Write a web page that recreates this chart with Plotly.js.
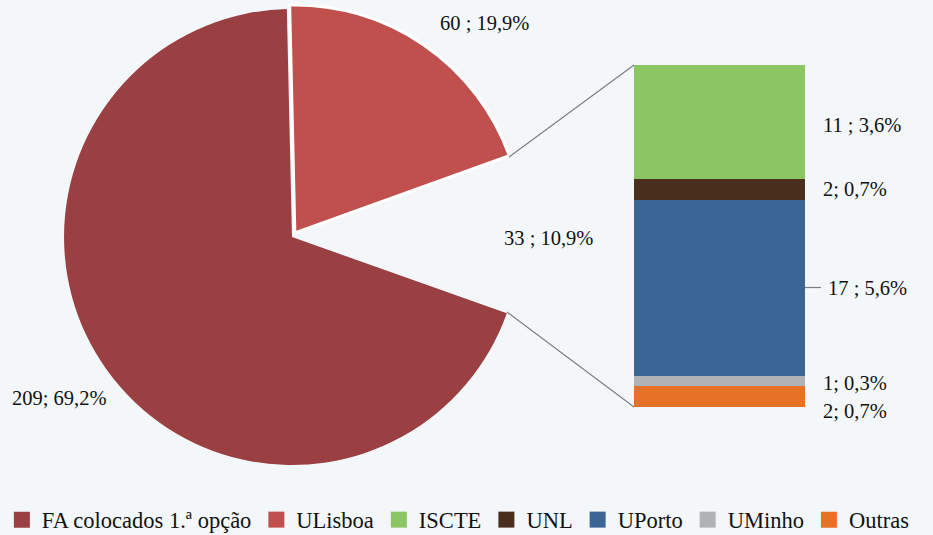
<!DOCTYPE html>
<html>
<head>
<meta charset="utf-8">
<script src="https://cdn.plot.ly/plotly-3.0.1.min.js"></script>
<style>
  html, body { margin: 0; padding: 0; background: #f3f7fa; }
  #chart { width: 933px; height: 535px; }
</style>
</head>
<body>
<div id="chart"></div>
<script>
// Main pie (first slice ULisboa, then the "other" group, then FA)
const pieLabels = ['ULisboa', 'Outras instituições', 'FA colocados 1.ª opção'];
const pieValues = [60, 33, 209];
const pieText = ['60 ; 19,9%', '33 ; 10,9%', '209; 69,2%'];
const pieColors = ['#c0504d', 'rgba(0,0,0,0)', '#9b4042'];

// Breakdown bar of the "other" group (top to bottom)
const subLabels = ['ISCTE', 'UNL', 'UPorto', 'UMinho', 'Outras'];
const subValues = [11, 2, 17, 1, 2];
const subText = ['11 ; 3,6%', '2; 0,7%', '17 ; 5,6%', '1; 0,3%', '2; 0,7%'];
const subColors = ['#8cc664', '#4a2f1f', '#3a6594', '#b0b3b6', '#e57227'];

const W = 933, H = 535;
const px = x => x / W;
const py = y => 1 - y / H;
const FONT = "'Liberation Serif', 'Times New Roman', serif";
const FS = 20.5;

const traces = [];

traces.push({
  type: 'pie',
  labels: pieLabels,
  values: pieValues,
  sort: false,
  direction: 'clockwise',
  rotation: -1.3,
  pull: [0.022, 0, 0],
  textinfo: 'none',
  hoverinfo: 'label+value+percent',
  showlegend: false,
  marker: {
    colors: pieColors,
    line: { color: ['#ffffff', 'rgba(0,0,0,0)', 'rgba(0,0,0,0)'], width: [3, 0, 0] }
  },
  domain: { x: [px(292 - 233), px(292 + 233)], y: [py(237 + 233), py(237 - 233)] }
});

// Stacked bar: draw bottom-first so first element ends up on top
for (let i = subLabels.length - 1; i >= 0; i--) {
  traces.push({
    type: 'bar',
    x: [0],
    y: [subValues[i]],
    name: subLabels[i],
    marker: { color: subColors[i], line: { width: 0 } },
    width: 1,
    showlegend: false,
    hoverinfo: 'name+y',
    xaxis: 'x', yaxis: 'y'
  });
}

// Legend entries (square swatches)
const legendItems = [[pieLabels[2], pieColors[2]], [pieLabels[0], pieColors[0]]]
  .concat(subLabels.map((l, i) => [l, subColors[i]]));
legendItems.forEach((e, i) => {
  traces.push({
    type: 'scatter', mode: 'markers', x: [null], y: [null], name: e[0],
    marker: { color: e[1], symbol: 'square', size: 22, line: { width: 0 } },
    legendrank: i + 1, showlegend: true,
    xaxis: 'x', yaxis: 'y', hoverinfo: 'skip'
  });
});

// Annotations
const annotations = [];
const piePos = [[484, 23], [548, 238], [59, 398]];
pieText.forEach((t, i) => {
  annotations.push({
    xref: 'paper', yref: 'paper', x: px(piePos[i][0]), y: py(piePos[i][1]),
    text: t, showarrow: false, xanchor: 'center', yanchor: 'middle',
    font: { family: FONT, size: FS, color: '#111' }
  });
});

const total = subValues.reduce((a, b) => a + b, 0);
let stackTop = total;
const xShifts = [16, 16, 21, 16, 16];
const yShifts = [-3, 0, 0, -2, -14];
subValues.forEach((v, i) => {
  const mid = stackTop - v / 2;
  stackTop -= v;
  annotations.push({
    xref: 'x', yref: 'y', x: 0.5, y: mid,
    text: subText[i], showarrow: false, xanchor: 'left', yanchor: 'middle',
    xshift: xShifts[i], yshift: yShifts[i],
    font: { family: FONT, size: FS, color: '#111' }
  });
});

const lineStyle = { color: '#7f7f7f', width: 1.2 };
const shapes = [
  { type: 'line', xref: 'paper', yref: 'paper', x0: px(509), y0: py(157), x1: px(634), y1: py(65), line: lineStyle },
  { type: 'line', xref: 'paper', yref: 'paper', x0: px(507), y0: py(312), x1: px(634), y1: py(407), line: lineStyle },
  { type: 'line', xref: 'paper', yref: 'paper', x0: px(805), y0: py(287.5), x1: px(821), y1: py(287.5), line: lineStyle }
];

const layout = {
  width: W, height: H,
  margin: { l: 0, r: 0, t: 0, b: 0, pad: 0, autoexpand: false },
  paper_bgcolor: '#f3f7fa',
  plot_bgcolor: 'rgba(0,0,0,0)',
  barmode: 'stack',
  bargap: 0,
  xaxis: {
    domain: [px(634), px(805)], range: [-0.5, 0.5],
    visible: false, fixedrange: true
  },
  yaxis: {
    domain: [py(407), py(65)], range: [0, total],
    visible: false, fixedrange: true
  },
  showlegend: true,
  legend: {
    orientation: 'h', x: 0.002, xanchor: 'left', y: py(520), yanchor: 'middle',
    font: { family: FONT, size: 22.5, color: '#111' },
    bgcolor: 'rgba(0,0,0,0)', traceorder: 'normal', itemsizing: 'trace'
  },
  annotations: annotations,
  shapes: shapes
};

Plotly.newPlot('chart', traces, layout, { displayModeBar: false, staticPlot: true });
</script>
</body>
</html>
